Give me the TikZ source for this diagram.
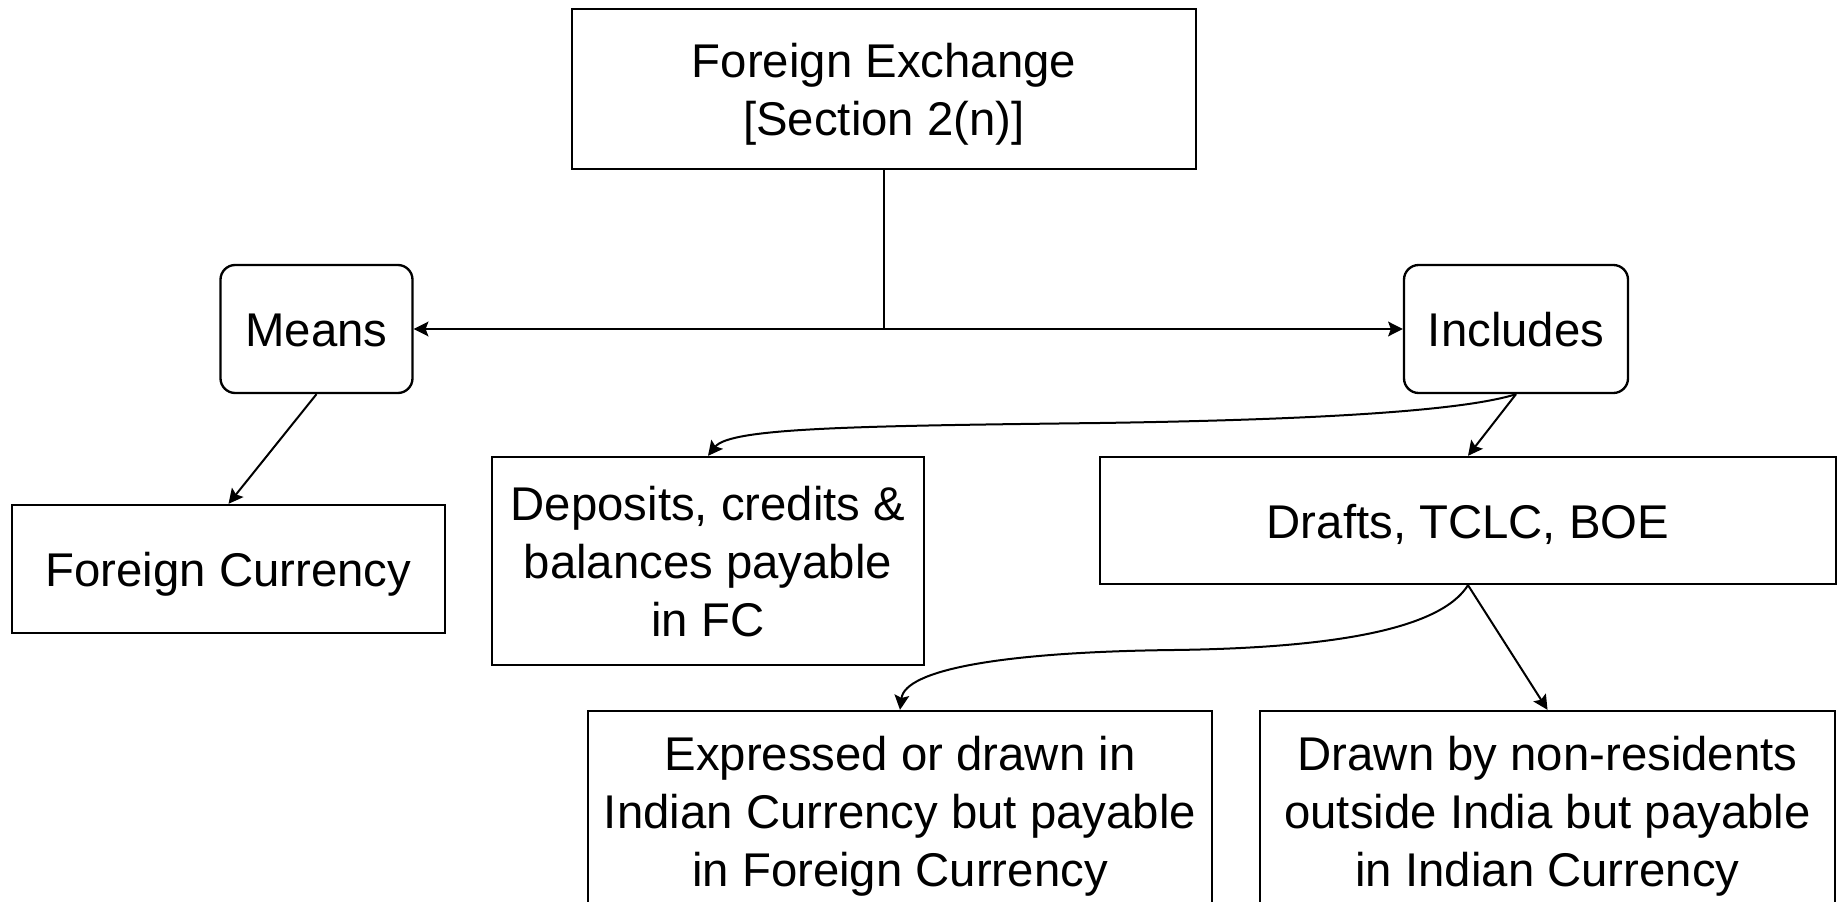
\documentclass[tikz,border=0pt]{standalone}
\usepackage{fontspec}
\setmainfont{Liberation Sans}
\usetikzlibrary{arrows.meta}

\newcommand{\linestrut}{\rule[-6.5pt]{0pt}{39.6pt}}

\tikzset{every picture/.style={line width=0.75pt}}
\tikzset{
  box/.style={draw, line width=1.75pt, align=center, inner sep=0pt, font=\fontsize{35.5}{43.5}\selectfont,
    execute at begin node=\linestrut, execute at end node=\linestrut},
  roundbox/.style={box, rounded corners=11pt},
  link/.style={line width=1.5pt, -{Stealth[length=11pt,width=11pt,inset=2pt]}},
}

\begin{document}
\begin{tikzpicture}[x=0.75pt,y=0.75pt,yscale=-1,xscale=1]
	\useasboundingbox (0,0) rectangle (1841,902);
	\clip (0,0) rectangle (1841,902);

	%Shape: Rectangle [top]
	\node [box, minimum width=468pt, minimum height=120pt] (fx) at (884,89) {\linestrut Foreign Exchange\\{}[Section 2(n)]\linestrut};
	%Shape: Rounded Rect
	\node [roundbox, minimum width=144pt, minimum height=96pt] (means) at (316.5,329) {Means};
	%Shape: Rounded Rect
	\node [roundbox, minimum width=168pt, minimum height=96pt] (incl) at (1516,329) {Includes};
	%Shape: Rectangle
	\node [box, minimum width=324.75pt, minimum height=96pt] (fcur) at (228.5,569) {Foreign Currency};
	%Shape: Rectangle
	\node [box, minimum width=324pt, minimum height=156pt] (dep) at (708,561) {\linestrut Deposits, credits \&\\balances payable\\in FC\linestrut};
	%Shape: Rectangle
	\node [box, minimum width=552pt, minimum height=95.25pt] (drafts) at (1468,520.5) {Drafts, TCLC, BOE};
	%Shape: Rectangle [bottom, runs off the page]
	\node [box, minimum width=468pt, minimum height=150pt] (expr) at (900,811) {\linestrut Expressed or drawn in\\Indian Currency but payable\\in Foreign Currency\linestrut};
	%Shape: Rectangle [bottom, runs off the page]
	\node [box, minimum width=431.25pt, minimum height=150pt] (drawn) at (1547.5,811) {\linestrut Drawn by non-residents\\outside India but payable\\in Indian Currency\linestrut};

	\coordinate (split) at (884,329);

	%Straight Lines
	\draw [line width=1.5pt] (fx.south) -- (split);
	\draw [link] (split) -- (means.east);
	\draw [link] (split) -- (incl.west);
	\draw [link] (means.south) -- (fcur.north);
	\draw [link] (incl.south) -- (drafts.north);
	\draw [link] (drafts.south) -- (drawn.north);
	%Curve Lines
	\draw [link] (incl.south) .. controls (1460,412) and (1300,420) .. (1100,423) .. controls (850,426) and (730,428) .. (dep.north);
	\draw [link] (drafts.south) .. controls (1440,630) and (1330,648) .. (1174,650) .. controls (1000,652) and (905,670) .. (expr.north);

\end{tikzpicture}
\end{document}
